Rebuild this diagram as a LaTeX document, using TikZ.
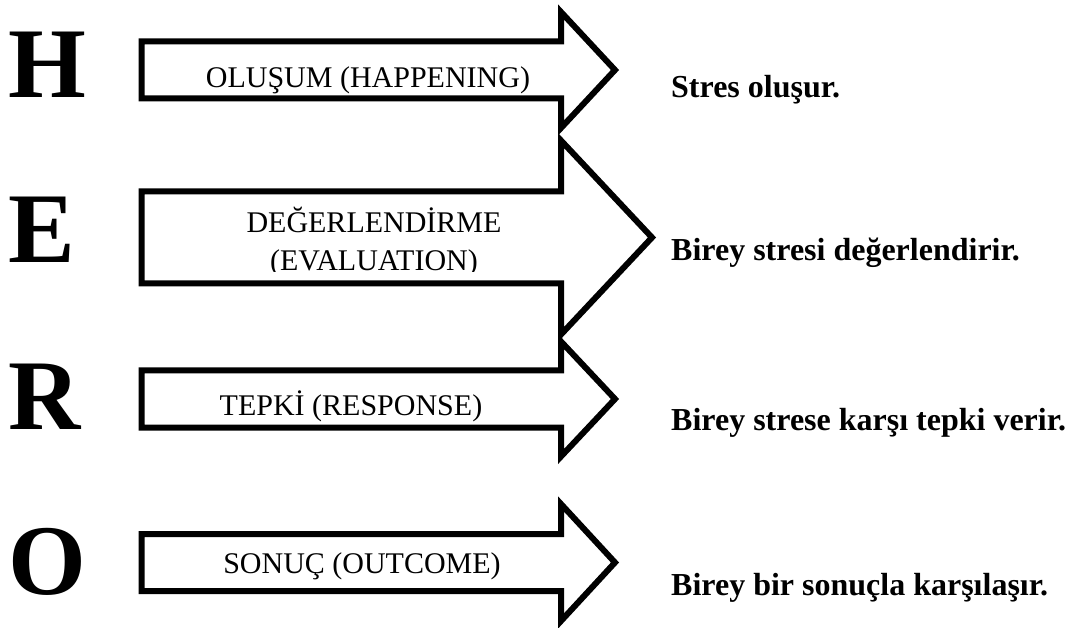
\documentclass[tikz,border=0pt]{standalone}
\usepackage{fontspec}
\setmainfont{Liberation Serif}
\begin{document}
\begin{tikzpicture}[x=1pt,y=-1pt,
  arrowline/.style={draw=black,line width=6pt,line join=miter,fill=white},
  letter/.style={font=\fontsize{100}{100}\selectfont\bfseries,anchor=base west,inner sep=0pt},
  lbl/.style={font=\fontsize{30}{37}\selectfont,anchor=base,inner sep=0pt},
  note/.style={font=\fontsize{32}{36}\selectfont\bfseries,anchor=base west,inner sep=0pt}]
\useasboundingbox (0,0) rectangle (1077,628);
% block arrow: #1 centre y, #2 shaft half-height, #3 head half-height, #4 tip x
\newcommand\blockarrow[4]{%
  \draw[arrowline] (141.5,#1-#2) -- (561,#1-#2) -- (561,#1-#3) -- (#4,#1)
    -- (561,#1+#3) -- (561,#1+#2) -- (141.5,#1+#2) -- cycle;}

% the four stages
\blockarrow{70}{28.5}{58}{615}
\blockarrow{237.5}{46}{97}{652}
\blockarrow{399}{28.5}{57.5}{615}
\blockarrow{562.5}{28.5}{58.5}{615}

% initials
\node[letter] (H) at (8,98) {H};
\node[letter] (E) at (8,263) {E};
\node[letter] (R) at (8,429) {R};
\node[letter] (O) at (8,594) {O};

% arrow labels
\node[lbl] (happening) at (368,88) {OLUŞUM (HAPPENING)};
\node[lbl] (evaluation1) at (374,233) {DEĞERLENDİRME};
\begin{scope}
  \clip (146,196) rectangle (556,272);
  \node[lbl] (evaluation2) at (374,271) {(EVALUATION)};
\end{scope}
\node[lbl] (response) at (351,415) {TEPKİ (RESPONSE)};
\node[lbl] (outcome) at (362,573) {SONUÇ (OUTCOME)};

% descriptions
\node[note] (n1) at (671,98) {Stres oluşur.};
\node[note] (n2) at (671,261) {Birey stresi değerlendirir.};
\node[note] (n3) at (671,430) {Birey strese karşı tepki verir.};
\node[note] (n4) at (671,595) {Birey bir sonuçla karşılaşır.};
\end{tikzpicture}
\end{document}
